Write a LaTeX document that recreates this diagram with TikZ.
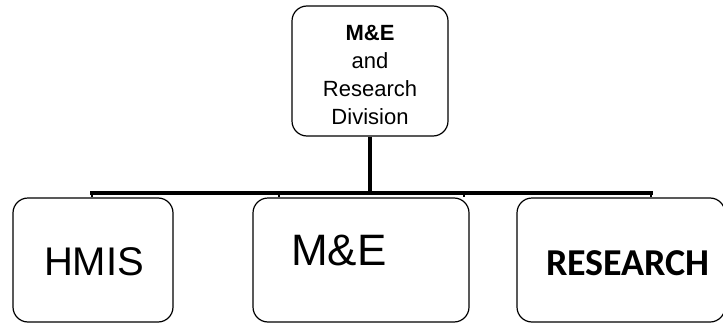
\documentclass[tikz,border=0pt]{standalone}
\usepackage{fontspec}
\setmainfont{Liberation Sans}
\newfontfamily\calibrifont{Carlito}
\begin{document}
\begin{tikzpicture}[x=1pt,y=-1pt,
  unitbox/.style={draw=black, line width=1.2pt, rounded corners=15pt, inner sep=0pt},
  bus/.style={draw=black, line width=3.4pt},
  drop/.style={draw=black, line width=1.8pt}]
\useasboundingbox (0,0) rectangle (723,324);
\fill[white] (0,0) rectangle (723,324);

% head of the division
\node[unitbox, minimum width=156pt, minimum height=130pt] (head) at (370,71) {};
\node[align=center, font=\fontsize{22}{28}\selectfont] (headt) at (370,75)
  {\textbf{M\&E}\\and\\Research\\Division};

% units
\node[unitbox, minimum width=160pt, minimum height=124pt] (hmis) at (93,260) {};
\node[font=\fontsize{40}{44}\selectfont] (hmist) at (94,262) {HMIS};

\node[unitbox, minimum width=216pt, minimum height=124pt] (me) at (361,260) {};
\node[font=\fontsize{44}{48}\selectfont] (met) at (339,250) {M\&E};

\node[unitbox, minimum width=208pt, minimum height=124pt] (res) at (621,260) {};
\node[font=\calibrifont\bfseries\fontsize{38}{42}\selectfont] (rest) at (628,263) {RESEARCH};

% connectors
\coordinate (hub) at (370,193);
\coordinate (b1) at (92,193);
\coordinate (b2) at (279,193);
\coordinate (b3) at (464,193);
\coordinate (b4) at (651,193);
\draw[bus] (head.south) -- (hub);
\draw[bus, line cap=rect] (b1) -- (b4);
\draw[drop] (b1) -- (b1 |- hmis.north);
\draw[drop] (b2) -- (b2 |- me.north);
\draw[drop] (b3) -- (b3 |- me.north);
\draw[drop] (b4) -- (b4 |- res.north);
\end{tikzpicture}
\end{document}
